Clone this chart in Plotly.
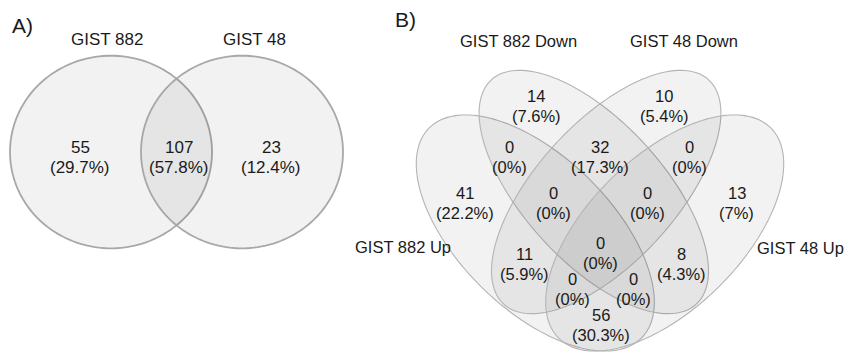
import numpy as np
import plotly.graph_objects as go

# ---------------- data ----------------
setsA = ["GIST 882", "GIST 48"]
regionsA = ["882 only", "both", "48 only"]
countsA = [55, 107, 23]

setsB = ["GIST 882 Down", "GIST 48 Down", "GIST 882 Up", "GIST 48 Up"]
regionsB = ["D882", "D48", "U882", "U48",
            "U882&D882", "D882&D48", "D48&U48",
            "U882&D882&D48", "D882&D48&U48",
            "U882&D48", "ALL", "D882&U48",
            "U882&D48&U48", "U882&D882&U48", "U882&U48"]
countsB = [14, 10, 41, 13,
           0, 32, 0,
           0, 0,
           11, 0, 8,
           0, 0, 56]

# ---------------- layout geometry (screen pixels) ----------------
# page body has an 8px margin; use axis ranges so data units == screen pixels
W, H, OFF = 858, 353, 8

# Panel A circles: (cx, cy, rx, ry)
circA = [(111, 152, 101, 96.3), (242, 152, 101, 96.3)]
# Panel B ellipses: (cx, cy, semi-major, semi-minor, angle of major axis in degrees, y down)
ellB = [(535.3, 233.0, 149.3, 76.3, 44.6),    # GIST 882 Up
        (593.8, 192.0, 151.9, 69.9, 47.6),    # GIST 882 Down
        (606.2, 192.0, 151.9, 69.9, -47.6),   # GIST 48 Down
        (664.7, 233.0, 149.3, 76.3, -44.6)]   # GIST 48 Up

posA = {"882 only": (80, 147), "both": (179, 147), "48 only": (271, 147)}
posB = {"D882": (536, 96), "D48": (664, 96), "U882": (465, 193), "U48": (736.5, 193),
        "U882&D882": (509.5, 147), "D882&D48": (600, 147), "D48&U48": (689, 147),
        "U882&D882&D48": (553.5, 192.5), "D882&D48&U48": (647.5, 192.5),
        "U882&D48": (524, 254), "ALL": (600.5, 242.5), "D882&U48": (681, 254),
        "U882&D48&U48": (572, 279), "U882&D882&U48": (633, 279), "U882&U48": (601, 315)}

FILL = "rgba(0,0,0,0.052)"
FONT = "Liberation Sans, Arial, sans-serif"
TXT = "#1a1a1a"


def ellipse_path(cx, cy, a, b, ang_deg=0.0, n=160):
    t = np.linspace(0, 2*np.pi, n, endpoint=False)
    ca, sa = np.cos(np.radians(ang_deg)), np.sin(np.radians(ang_deg))
    x = cx + a*np.cos(t)*ca - b*np.sin(t)*sa
    y = cy + a*np.cos(t)*sa + b*np.sin(t)*ca
    return "M " + " L ".join(f"{u:.2f},{v:.2f}" for u, v in zip(x, y)) + " Z"


def pct(v, total):
    s = f"{100*v/total:.1f}"
    if s.endswith(".0"):
        s = s[:-2]
    return f"({s}%)"


shapes = []
for cx, cy, rx, ry in circA:
    shapes.append(dict(type="path", path=ellipse_path(cx, cy, rx, ry), fillcolor=FILL,
                       line=dict(color="#a8a8a8", width=1.8)))
for cx, cy, a, b, ang in ellB:
    shapes.append(dict(type="path", path=ellipse_path(cx, cy, a, b, ang), fillcolor=FILL,
                       line=dict(color="#b4b4b4", width=1.1)))

ann = []
def T(x, y, s, size):
    ann.append(dict(x=x, y=y, xref="x", yref="y", text=s, showarrow=False,
                    font=dict(family=FONT, size=size, color=TXT),
                    xanchor="center", yanchor="middle"))

T(22, 25, "A)", 21)
T(107, 39, setsA[0], 17)
T(254, 39, setsA[1], 17)
totA = sum(countsA)
for r, v in zip(regionsA, countsA):
    x, y = posA[r]
    T(x, y, str(v), 17)
    T(x, y + 20, pct(v, totA), 17)

T(405, 19, "B)", 21)
T(518.5, 41, setsB[0], 16.5)
T(684, 41, setsB[1], 16.5)
T(403, 247, setsB[2], 16.5)
T(800.5, 248, setsB[3], 16.5)
totB = sum(countsB)
for r, v in zip(regionsB, countsB):
    x, y = posB[r]
    T(x, y, str(v), 16.5)
    T(x, y + 20, pct(v, totB), 16.5)

fig = go.Figure()
fig.update_layout(width=W - OFF, height=H - OFF, margin=dict(l=0, r=0, t=0, b=0),
                  paper_bgcolor="white", plot_bgcolor="white",
                  xaxis=dict(range=[OFF, W], visible=False, fixedrange=True),
                  yaxis=dict(range=[H, OFF], visible=False, fixedrange=True),
                  shapes=shapes, annotations=ann, showlegend=False)
fig.write_html("out.html")
